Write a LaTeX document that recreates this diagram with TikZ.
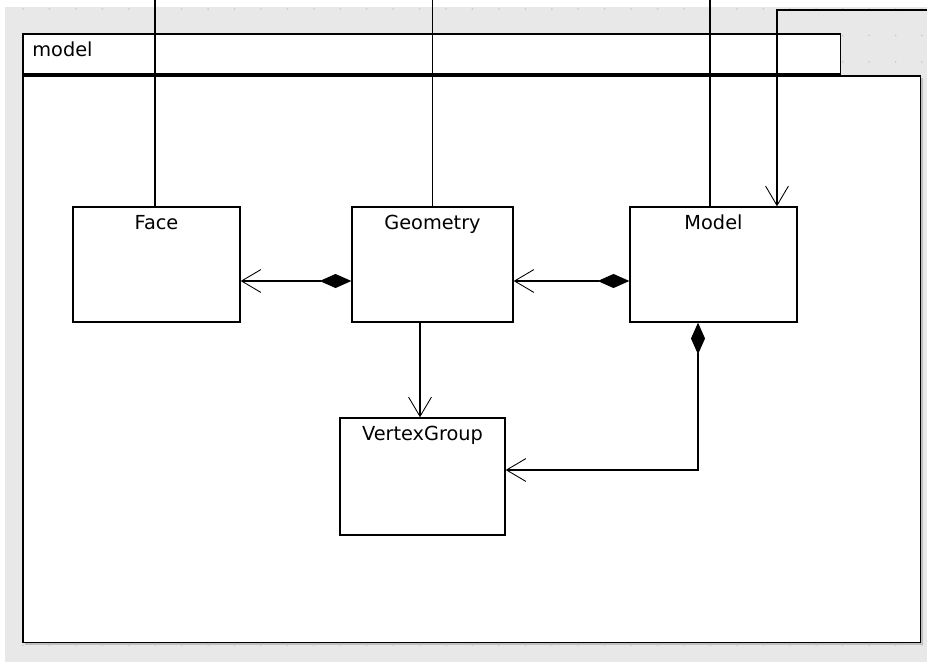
\documentclass[tikz,border=0pt]{standalone}
\usepackage{fontspec}
\setsansfont{DejaVu Sans}
\usetikzlibrary{arrows.meta,positioning,calc}

\begin{document}
\begin{tikzpicture}[
    x=0.02cm, y=-0.02cm,
    every node/.style={font=\sffamily\fontsize{11}{13}\selectfont},
    pkgbox/.style={draw, line width=0.9pt, fill=white, inner sep=0pt},
    cls/.style={draw, line width=0.8pt, fill=white, minimum height=2.3cm, inner sep=0pt},
    link/.style={line width=0.6pt},
    nav/.style={link, -{Straight Barb[length=11pt,width=13pt,line width=0.5pt]}},
    comp/.style={link, {Diamond[length=18pt,width=8pt]}-{Straight Barb[length=11pt,width=13pt,line width=0.5pt]}}
]
\useasboundingbox (0,0) rectangle (927,662);
\fill[black!9] (5,7) rectangle (927,662);
% grid dots of the canvas
\foreach \i in {0,...,34}
  \foreach \j in {0,...,24}
    \fill[black!20] ({23+26.44*\i},{9+26.5*\j}) circle (1);

% package model
\fill[black!25] (25,78) rectangle (923,645);
\node[pkgbox, minimum width=16.36cm, minimum height=0.8cm, anchor=south west] (tab) at (22,75) {};
\node[pkgbox, minimum width=17.96cm, minimum height=11.34cm, anchor=north west] (pkg) at (22,75) {};
\node[anchor=base west, inner sep=0pt] (pkgname) at (32,57) {model};

% classes
\node[cls, minimum width=3.34cm, label={[anchor=base, yshift=-13pt]north:Face}] (Face) at (156.5,264.5) {};
\node[cls, minimum width=3.22cm, label={[anchor=base, yshift=-13pt]north:Geometry}] (Geometry) at (432.5,264.5) {};
\node[cls, minimum width=3.34cm, label={[anchor=base, yshift=-13pt]north:Model}] (Model) at (713.5,264.5) {};
\node[cls, minimum width=3.3cm, minimum height=2.34cm, label={[anchor=base, yshift=-13pt]north:VertexGroup}] (VertexGroup) at (422.5,476.5) {};

% links from outside the package
\coordinate (top) at (0,0);
\coordinate (ext) at (927,10);
\coordinate (fUp) at ($(Face.north)+(-1.5,0)$);
\coordinate (mUp) at ($(Model.north)+(-3.5,0)$);
\draw[link] (fUp) -- (fUp |- top);
\draw[link] (Geometry.north) -- (Geometry.north |- top);
\draw[link] (mUp) -- (mUp |- top);
\draw[nav] (ext) -| ($(Model.north)+(63.5,0)$);

% links inside
\draw[comp] ($(Geometry.west)+(0,16.5)$) -- ($(Face.east)+(0,16.5)$);
\draw[comp] ($(Model.west)+(0,16.5)$) -- ($(Geometry.east)+(0,16.5)$);
\draw[nav] ($(Geometry.south)+(-12.5,0)$) -- ($(VertexGroup.north)+(-2.5,0)$);
\draw[comp] ($(Model.south)+(-15.5,0)$) |- ($(VertexGroup.east)+(0,-6.5)$);
\end{tikzpicture}
\end{document}
